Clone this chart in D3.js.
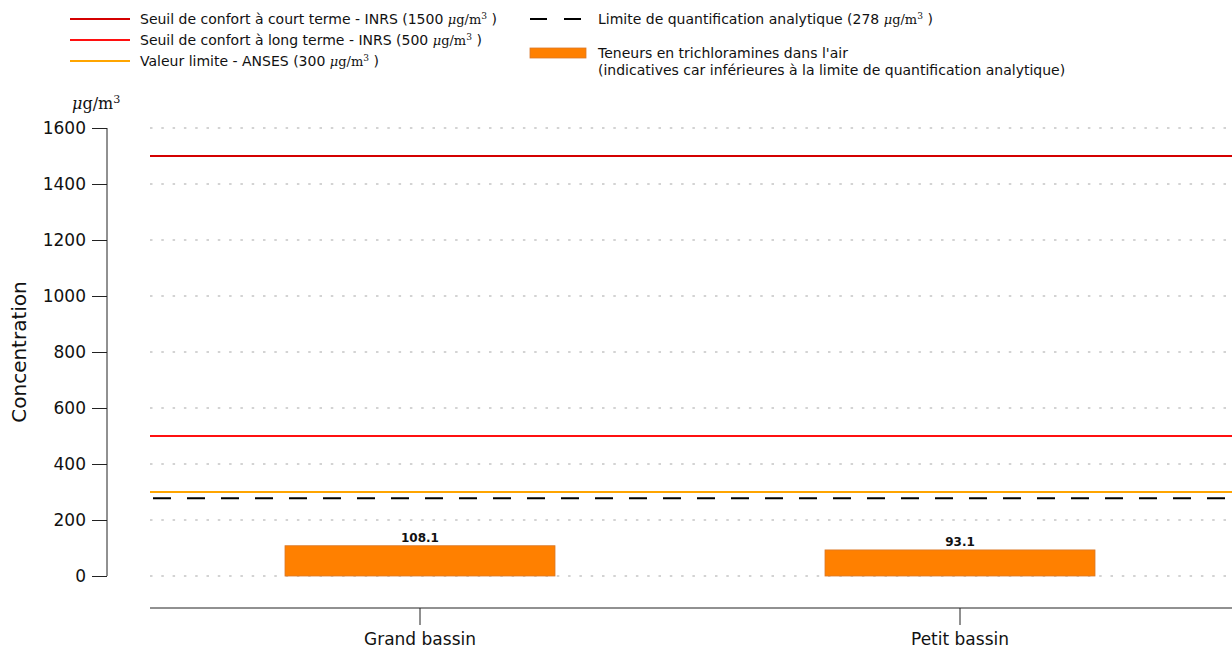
<!DOCTYPE html>
<html>
<head>
<meta charset="utf-8">
<script src="https://cdn.jsdelivr.net/npm/d3@7"></script>
<style>
  body { margin: 0; background: #fff; }
  text { font-family: "DejaVu Sans", sans-serif; }
</style>
</head>
<body>
<div id="chart"></div>
<script>
const categories = ["Grand bassin", "Petit bassin"];
const values = [108.1, 93.1];
const yTicks = [0, 200, 400, 600, 800, 1000, 1200, 1400, 1600];
const thresholds = [
    { value: 1500, color: "#d40000", label: "Seuil de confort à court terme - INRS (1500 " },
    { value: 500, color: "#ff1010", label: "Seuil de confort à long terme - INRS (500 " },
    { value: 300, color: "#ffa500", label: "Valeur limite - ANSES (300 " }
];
const quantLimit = { value: 278, label: "Limite de quantification analytique (278 " };

const width = 1232, height = 648;

const svg = d3.select("#chart").append("svg")
    .attr("width", width)
    .attr("height", height);

const x = d3.scaleBand().domain(categories).range([150, 1230]).padding(0);
const y = d3.scaleLinear().domain([0, 1600]).range([576, 128]);

// dotted grid
svg.append("g").selectAll("line")
    .data(yTicks)
    .enter().append("line")
    .attr("x1", 150).attr("x2", width)
    .attr("y1", d => y(d)).attr("y2", d => y(d))
    .attr("stroke", "#a8a8a8")
    .attr("stroke-width", 1.2)
    .attr("stroke-dasharray", "2.5,8.8");

// y axis
const yAxis = svg.append("g")
    .attr("transform", "translate(107,0)")
    .call(d3.axisLeft(y).tickValues(yTicks).tickFormat(d3.format("d")).tickSize(15).tickPadding(6));
yAxis.select(".domain").attr("stroke", "#222").attr("d", "M0," + y(1600) + "V" + y(0));
yAxis.selectAll(".tick line").attr("stroke", "#222");
yAxis.selectAll("text").attr("font-size", 17).attr("fill", "#111")
    .style("font-family", "DejaVu Sans, sans-serif");

// x axis
const xAxis = svg.append("g")
    .attr("transform", "translate(0,608)")
    .call(d3.axisBottom(x).tickSize(17).tickPadding(8));
xAxis.select(".domain").attr("stroke", "#222").attr("d", "M150,0H" + width);
xAxis.selectAll(".tick line").attr("stroke", "#222");
xAxis.selectAll("text").attr("font-size", 17).attr("fill", "#111")
    .style("font-family", "DejaVu Sans, sans-serif");

// bars
const barW = x.bandwidth() / 2;
svg.append("g").selectAll("rect")
    .data(values)
    .enter().append("rect")
    .attr("x", (d, i) => x(categories[i]) + x.bandwidth() / 2 - barW / 2)
    .attr("y", d => y(d))
    .attr("width", barW)
    .attr("height", d => y(0) - y(d))
    .attr("fill", "#ff8000")
    .attr("stroke", "#d9782a")
    .attr("stroke-width", 0.8);

svg.append("g").selectAll("text")
    .data(values)
    .enter().append("text")
    .attr("x", (d, i) => x(categories[i]) + x.bandwidth() / 2)
    .attr("y", d => y(d) - 4)
    .attr("text-anchor", "middle")
    .attr("font-size", 12)
    .attr("font-weight", "bold")
    .attr("fill", "#111")
    .text(d => d.toFixed(1));

// threshold lines
svg.append("g").selectAll("line")
    .data(thresholds)
    .enter().append("line")
    .attr("x1", 150).attr("x2", width)
    .attr("y1", d => y(d.value)).attr("y2", d => y(d.value))
    .attr("stroke", d => d.color)
    .attr("stroke-width", 2);

svg.append("line")
    .attr("x1", 150).attr("x2", width)
    .attr("y1", y(quantLimit.value)).attr("y2", y(quantLimit.value))
    .attr("stroke", "#000")
    .attr("stroke-width", 2)
    .attr("stroke-dasharray", "18,16")
    .attr("stroke-dashoffset", -3);

// unit helper: "μg/m³" in math style
function unit(sel, size) {
    sel.append("tspan").attr("font-family", "DejaVu Serif, serif").attr("font-style", "italic")
        .attr("font-size", size).text("μ");
    sel.append("tspan").attr("font-family", "DejaVu Serif, serif")
        .attr("font-size", size).text("g/m");
    sel.append("tspan").attr("font-family", "DejaVu Serif, serif")
        .attr("font-size", size * 0.7).attr("dy", -size * 0.4).text("3");
}

// legend (left column)
const legend = svg.append("g");
thresholds.forEach((t, i) => {
    const ly = 19 + i * 21;
    legend.append("line")
        .attr("x1", 70).attr("x2", 130).attr("y1", ly).attr("y2", ly)
        .attr("stroke", t.color).attr("stroke-width", 2);
    const txt = legend.append("text").attr("x", 140).attr("y", ly + 5)
        .attr("font-size", 14).attr("fill", "#111");
    txt.append("tspan").text(t.label);
    unit(txt, 13);
    txt.append("tspan").attr("dy", 13 * 0.4).text(" )");
});

// legend (right column)
legend.append("line")
    .attr("x1", 530).attr("x2", 584).attr("y1", 19).attr("y2", 19)
    .attr("stroke", "#000").attr("stroke-width", 2)
    .attr("stroke-dasharray", "17,17");
const qTxt = legend.append("text").attr("x", 598).attr("y", 24)
    .attr("font-size", 14).attr("fill", "#111");
qTxt.append("tspan").text(quantLimit.label);
unit(qTxt, 13);
qTxt.append("tspan").attr("dy", 13 * 0.4).text(" )");

legend.append("rect")
    .attr("x", 530).attr("y", 48).attr("width", 56).attr("height", 10)
    .attr("fill", "#ff8000").attr("stroke", "#d9782a").attr("stroke-width", 0.8);
legend.append("text").attr("x", 598).attr("y", 58)
    .attr("font-size", 14).attr("fill", "#111")
    .text("Teneurs en trichloramines dans l'air");
legend.append("text").attr("x", 598).attr("y", 75)
    .attr("font-size", 14).attr("fill", "#111")
    .text("(indicatives car inférieures à la limite de quantification analytique)");

// unit label above y axis
const uLbl = svg.append("text").attr("x", 72).attr("y", 109).attr("fill", "#111");
unit(uLbl, 16);

// y axis title
svg.append("text")
    .attr("transform", "translate(26,352) rotate(-90)")
    .attr("text-anchor", "middle")
    .attr("font-size", 20)
    .attr("fill", "#111")
    .text("Concentration");
</script>
</body>
</html>
